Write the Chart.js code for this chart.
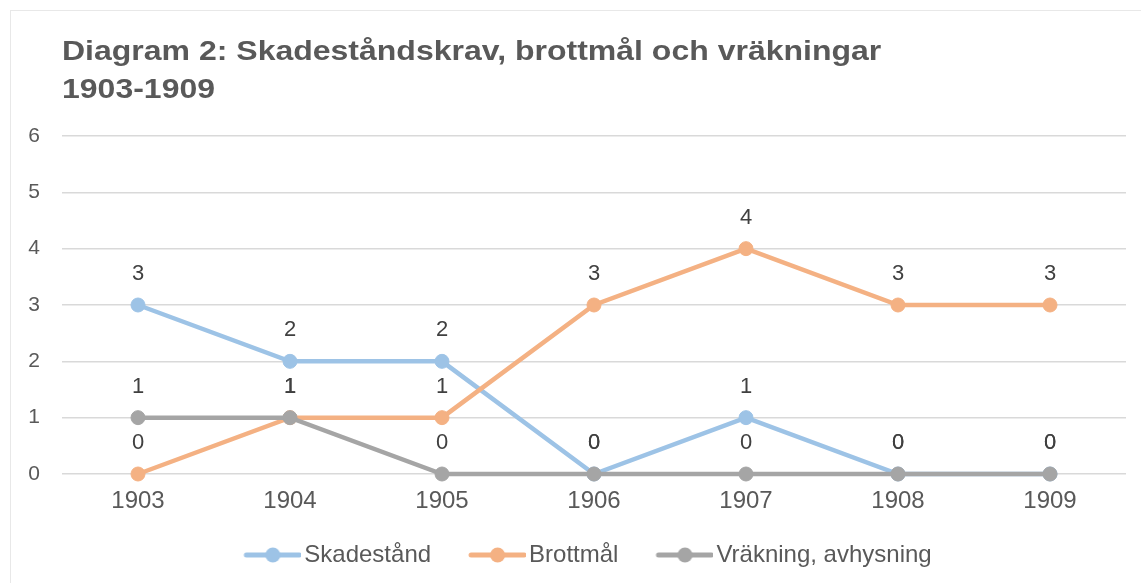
<!DOCTYPE html>
<html>
<head>
<meta charset="utf-8">
<script src="https://cdn.jsdelivr.net/npm/chart.js@4/dist/chart.umd.min.js"></script>
<style>
  html, body { margin: 0; padding: 0; background: #ffffff; width: 1141px; height: 583px; overflow: hidden; }
  #frame { position: absolute; left: 10px; top: 10px; width: 1300px; height: 700px; border: 1px solid #e8e8e8; box-sizing: border-box; }
  #wrap { position: absolute; left: 0; top: 0; width: 1141px; height: 583px; }
</style>
</head>
<body>
<div id="frame"></div>
<div id="wrap"><canvas id="c" width="1141" height="583"></canvas></div>
<script>
// ---- data ----
const categories = ['1903', '1904', '1905', '1906', '1907', '1908', '1909'];
const skadestand = [3, 2, 2, 0, 1, 0, 0];
const brottmal   = [0, 1, 1, 3, 4, 3, 3];
const vrakning   = [1, 1, 0, 0, 0, 0, 0];
const seriesNames = ['Skadestånd', 'Brottmål', 'Vräkning, avhysning'];
const yTicks = [0, 1, 2, 3, 4, 5, 6];
const titleLines = ['Diagram 2: Skadeståndskrav, brottmål och vräkningar', '1903-1909'];

// ---- styles ----
const colors = ['#9DC3E6', '#F4B183', '#A5A5A5'];
const FONT = '"Liberation Sans", Arial, Helvetica, sans-serif';
const textColor = '#595959';
const labelColor = '#404040';

function legendMarker(color) {
  const c = document.createElement('canvas');
  c.width = 94; c.height = 18;
  const x = c.getContext('2d');
  x.strokeStyle = color; x.lineWidth = 5; x.lineCap = 'round';
  x.beginPath(); x.moveTo(39, 9); x.lineTo(92, 9); x.stroke();
  x.fillStyle = color;
  x.beginPath(); x.arc(65.5, 9, 7.5, 0, Math.PI * 2); x.fill();
  return c;
}
const markers = colors.map(legendMarker);

const titlePlugin = {
  id: 'leftTitle',
  afterDraw(chart) {
    const ctx = chart.ctx;
    const sy = 0.88;
    ctx.save();
    ctx.scale(1, sy);
    ctx.font = 'bold 32px ' + FONT;
    ctx.fillStyle = textColor;
    ctx.textAlign = 'left';
    ctx.textBaseline = 'alphabetic';
    titleLines.forEach((t, i) => ctx.fillText(t, chart.chartArea.left, (60 + i * 38) / sy));
    ctx.restore();
  }
};

const dataLabelPlugin = {
  id: 'dataLabels',
  afterDatasetsDraw(chart) {
    const ctx = chart.ctx;
    ctx.save();
    ctx.font = '22px ' + FONT;
    ctx.fillStyle = labelColor;
    ctx.textAlign = 'center';
    ctx.textBaseline = 'middle';
    chart.data.datasets.forEach((ds, i) => {
      const meta = chart.getDatasetMeta(i);
      meta.data.forEach((pt, j) => {
        ctx.fillText(String(ds.data[j]), pt.x, pt.y - 31);
      });
    });
    ctx.restore();
  }
};

const allSeries = [skadestand, brottmal, vrakning];
const datasets = allSeries.map((vals, i) => ({
  label: seriesNames[i],
  data: vals,
  borderColor: colors[i],
  backgroundColor: colors[i],
  pointBackgroundColor: colors[i],
  pointBorderColor: colors[i],
  borderWidth: 4.5,
  pointRadius: 7,
  pointBorderWidth: 1,
  pointHoverRadius: 7,
  tension: 0,
  fill: false,
  clip: false,
  order: 3 - i
}));

new Chart(document.getElementById('c'), {
  type: 'line',
  data: { labels: categories, datasets },
  options: {
    responsive: false,
    animation: false,
    devicePixelRatio: 1,
    layout: { padding: { left: 22, right: 15, top: 136, bottom: 6 } },
    plugins: {
      title: { display: false },
      tooltip: { enabled: false },
      legend: {
        position: 'bottom',
        labels: {
          usePointStyle: true,
          pointStyleWidth: 76,
          padding: 10,
          color: textColor,
          font: { size: 24, family: FONT },
          sort: (a, b) => a.datasetIndex - b.datasetIndex,
          generateLabels(chart) {
            const items = Chart.defaults.plugins.legend.labels.generateLabels(chart);
            items.forEach(it => { it.pointStyle = markers[it.datasetIndex]; });
            return items;
          }
        }
      }
    },
    scales: {
      x: {
        offset: true,
        grid: { display: false, drawTicks: false },
        border: { display: false },
        ticks: { color: textColor, font: { size: 24, family: FONT }, padding: 12.6, maxRotation: 0 },
        afterFit(scale) { scale.height = 59; }
      },
      y: {
        min: 0, max: 6,
        grid: { color: '#d9d9d9', lineWidth: 1.5, drawTicks: false },
        border: { display: false },
        ticks: { color: textColor, font: { size: 21, family: FONT }, padding: 22, stepSize: 1 },
        afterBuildTicks(scale) { scale.ticks = yTicks.map(v => ({ value: v })); },
        afterFit(scale) { scale.width = 40; }
      }
    }
  },
  plugins: [titlePlugin, dataLabelPlugin]
});
</script>
</body>
</html>
